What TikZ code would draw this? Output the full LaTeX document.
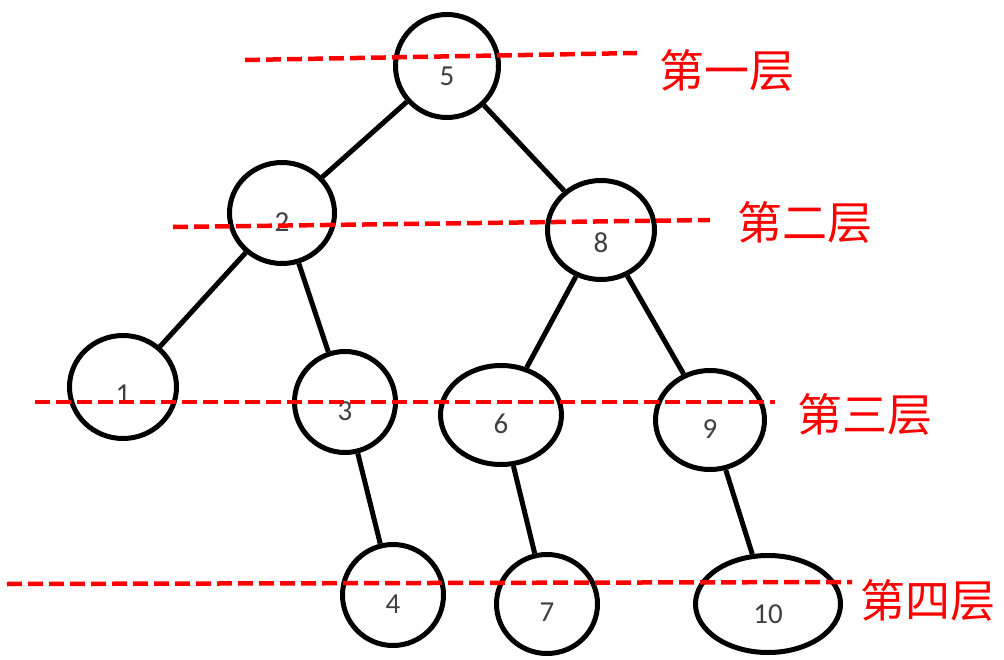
\documentclass[tikz,border=0pt]{standalone}
\usepackage{fontspec}
\setmainfont{Carlito}
\newfontfamily\cjk{Noto Sans CJK SC}
\usetikzlibrary{shapes.geometric}
\definecolor{numgrey}{HTML}{404040}
\tikzset{
  tn/.style={ellipse, draw=black, line width=5pt, inner sep=0pt, fill=white},
  num/.style={text=numgrey, font=\fontsize{29pt}{29pt}\selectfont, inner sep=0pt},
  edge/.style={line width=5pt, black},
  levelline/.style={red, line width=4.5pt, dash pattern=on 15pt off 6pt},
  levellabel/.style={text=red, font=\cjk\fontsize{45pt}{45pt}\selectfont, inner sep=0pt}
}
\begin{document}
\begin{tikzpicture}[x=1pt,y=-1pt]
\useasboundingbox (0,0) rectangle (1004,660);
% nodes
\node[tn, minimum width=103pt, minimum height=103pt, label={[num,yshift=-10pt]center:5}] (n5) at (447,66) {};
\node[tn, minimum width=105pt, minimum height=101pt, label={[num,yshift=-9pt]center:2}] (n2) at (282,213) {};
\node[tn, minimum width=107pt, minimum height=99pt, label={[num,yshift=-13pt]center:8}] (n8) at (601,230) {};
\node[tn, minimum width=107pt, minimum height=103pt, label={[num,yshift=-7pt]center:1}] (n1) at (123,387) {};
\node[tn, minimum width=101pt, minimum height=101pt, label={[num,yshift=-9pt]center:3}] (n3) at (345,402) {};
\node[tn, minimum width=121pt, minimum height=99pt, label={[num,yshift=-9pt]center:6}] (n6) at (501,415) {};
\node[tn, minimum width=109pt, minimum height=99pt, label={[num,yshift=-9pt]center:9}] (n9) at (710,420) {};
\node[tn, minimum width=101pt, minimum height=101pt, label={[num,yshift=-9pt]center:4}] (n4) at (393,595) {};
\node[tn, minimum width=101pt, minimum height=99pt, label={[num,yshift=-8pt]center:7}] (n7) at (547,604) {};
\node[tn, minimum width=145pt, minimum height=97pt, label={[num,yshift=-10pt]center:10}] (n10) at (768,604) {};
% edges
\begin{scope}[on background layer/.style={}]
\draw[edge] (n5) -- (n2);
\draw[edge] (n5) -- (n8);
\draw[edge] (n2) -- (n1);
\draw[edge] (n2) -- (n3);
\draw[edge] (n8) -- (n6);
\draw[edge] (n8) -- (n9);
\draw[edge] (n3) -- (n4);
\draw[edge] (n6) -- (n7);
\draw[edge] (n9) -- (n10);
\end{scope}
% level lines
\coordinate (l1a) at (245,60); \coordinate (l1b) at (637,53);
\coordinate (l2a) at (173,227); \coordinate (l2b) at (710,220);
\coordinate (l3a) at (35,402); \coordinate (l3b) at (775,402);
\coordinate (l4a) at (7,584); \coordinate (l4b) at (852,582);
\draw[levelline] (l1a) -- (l1b);
\draw[levelline] (l2a) -- (l2b);
\draw[levelline] (l3a) -- (l3b);
\draw[levelline] (l4a) -- (l4b);
\node[levellabel] (t1) at (727,70) {第一层};
\node[levellabel] (t2) at (805,222) {第二层};
\node[levellabel] (t3) at (865,414) {第三层};
\node[levellabel] (t4) at (928,600) {第四层};
\end{tikzpicture}
\end{document}
